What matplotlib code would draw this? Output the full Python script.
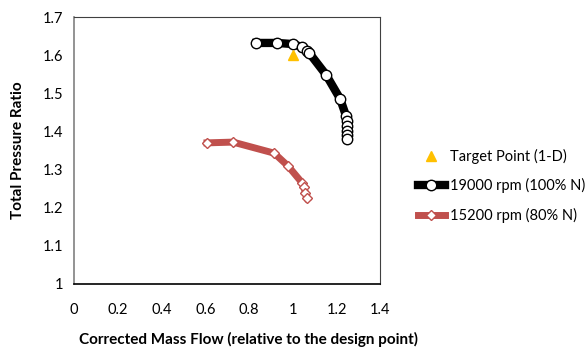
import matplotlib.pyplot as plt

plt.rcParams['font.family'] = ['Lato', 'DejaVu Sans']

# Target point (1-D)
target_x = [1.0]
target_y = [1.60]

# 19000 rpm (100% N)
n100_flow = [0.833, 0.929, 1.002, 1.043, 1.066, 1.075, 1.153, 1.217,
             1.244, 1.247, 1.249, 1.249, 1.249, 1.249]
n100_pr = [1.632, 1.632, 1.629, 1.621, 1.611, 1.606, 1.548, 1.485,
           1.440, 1.427, 1.414, 1.401, 1.391, 1.380]

# 15200 rpm (80% N)
n80_flow = [0.608, 0.727, 0.915, 0.979, 1.043, 1.052, 1.057, 1.066]
n80_pr = [1.370, 1.372, 1.343, 1.309, 1.265, 1.254, 1.239, 1.225]

xticks = [0, 0.2, 0.4, 0.6, 0.8, 1.0, 1.2, 1.4]
yticks = [1, 1.1, 1.2, 1.3, 1.4, 1.5, 1.6, 1.7]

fig = plt.figure(figsize=(5.85, 3.47), dpi=100)
ax = fig.add_axes([0.1265, 0.1816, 0.5235, 0.7694])

ax.plot(target_x, target_y, linestyle='none', marker='^', color='#FFC000',
        markersize=7, label='Target Point (1-D)', zorder=4)
ax.plot(n100_flow, n100_pr, color='black', lw=6, marker='o', markersize=7.5,
        markerfacecolor='white', markeredgecolor='black', markeredgewidth=1.0,
        label='19000 rpm (100% N)', zorder=3)
ax.plot(n80_flow, n80_pr, color='#C0504D', lw=5, marker='D', markersize=5,
        markerfacecolor='white', markeredgecolor='#C0504D', markeredgewidth=1.0,
        label='15200 rpm (80% N)', zorder=3)

ax.set_xlim(0, 1.4)
ax.set_ylim(1, 1.7)
ax.set_xticks(xticks)
ax.set_xticklabels(['0', '0.2', '0.4', '0.6', '0.8', '1', '1.2', '1.4'])
ax.set_yticks(yticks)
ax.set_yticklabels(['1', '1.1', '1.2', '1.3', '1.4', '1.5', '1.6', '1.7'])
ax.tick_params(length=0, labelsize=10.5, pad=8)
ax.tick_params(axis='x', pad=14)
for s in ['top', 'right']:
    ax.spines[s].set_color('#404040')
    ax.spines[s].set_linewidth(0.8)
ax.spines['left'].set_color('#808080')
ax.spines['left'].set_linewidth(1.2)
ax.spines['bottom'].set_color('black')
ax.spines['bottom'].set_linewidth(1.2)

fig.text(0.4256, 0.023, 'Corrected Mass Flow (relative to the design point)',
         ha='center', va='center', fontsize=11, fontweight='bold')
fig.text(0.031, 0.568, 'Total Pressure Ratio', rotation=90,
         ha='center', va='center', fontsize=11, fontweight='bold')

fig.legend(loc='upper left', bbox_to_anchor=(0.714, 0.571), frameon=False,
           fontsize=10.5, handlelength=1.85, handletextpad=0.35,
           labelspacing=0.98, borderaxespad=0, borderpad=0)

fig.savefig('out.png', dpi=100)
